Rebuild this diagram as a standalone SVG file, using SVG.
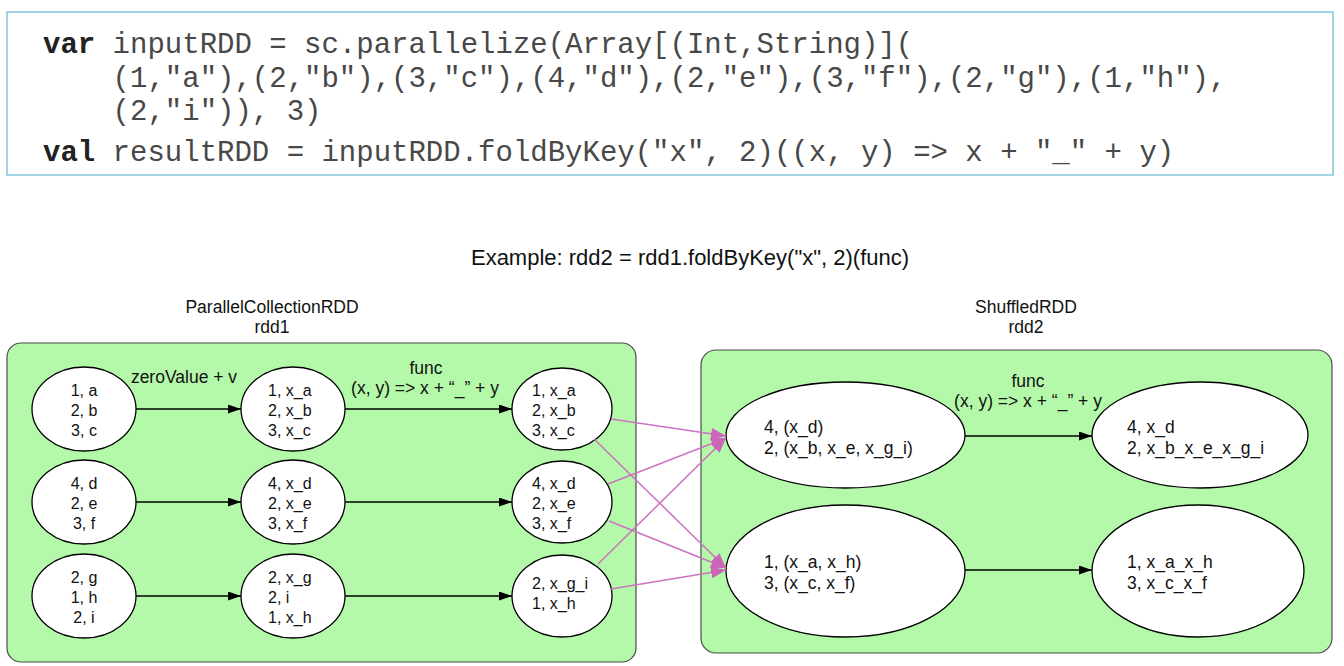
<svg xmlns="http://www.w3.org/2000/svg" width="1344" height="666" viewBox="0 0 1344 666">
<style>
.code{font-family:"Liberation Mono","Courier New",monospace;font-size:29px;fill:#484848;white-space:pre}
.kw{font-weight:bold;fill:#222}
.t{font-family:"Liberation Sans",Arial,sans-serif;fill:#111}
.ttl{font-size:17.5px;text-anchor:middle}
.lbl{font-size:17.5px;text-anchor:middle}
.n{font-size:16px}
.nc{text-anchor:middle}
.rn{font-size:17.5px}
.cl{fill:#b4f9aa;stroke:#4a4a4a;stroke-width:1.2}
.el{fill:#fff;stroke:#000;stroke-width:1.3}
.a{stroke:#000;stroke-width:1.5;fill:none;marker-end:url(#ah)}
.p{stroke:#cc72bf;stroke-width:1.5;fill:none;marker-end:url(#ph)}
</style>
<defs>
<marker id="ah" markerUnits="userSpaceOnUse" markerWidth="13" markerHeight="9" refX="13" refY="4.5" orient="auto"><path d="M0,0 L13,4.5 L0,9 z" fill="#000"/></marker>
<marker id="ph" markerUnits="userSpaceOnUse" markerWidth="15" markerHeight="12" refX="15" refY="6" orient="auto"><path d="M0,0 L15,6 L0,12 z" fill="#cc66bb"/></marker>
</defs>
<rect width="1344" height="666" fill="#fff"/>
<g id="code">
<rect x="7" y="12" width="1326" height="163" fill="#fff" stroke="#8acbe0" stroke-width="1.6"/>
<text class="code" x="43" y="53"><tspan class="kw">var</tspan> inputRDD = sc.parallelize(Array[(Int,String)](</text>
<text class="code" x="43" y="87">    (1,"a"),(2,"b"),(3,"c"),(4,"d"),(2,"e"),(3,"f"),(2,"g"),(1,"h"),</text>
<text class="code" x="43" y="120">    (2,"i")), 3)</text>
<text class="code" x="43" y="161"><tspan class="kw">val</tspan> resultRDD = inputRDD.foldByKey("x", 2)((x, y) =&gt; x + "_" + y)</text>
</g>
<g id="title"><text class="t" x="690" y="265" font-size="22" text-anchor="middle">Example: rdd2 = rdd1.foldByKey("x", 2)(func)</text></g>
<g id="rdd1">
<text class="t ttl" x="272" y="313">ParallelCollectionRDD</text>
<text class="t ttl" x="272" y="333">rdd1</text>
<rect class="cl" x="7" y="343" width="629" height="319" rx="14"/>
</g>
<g id="rdd2">
<text class="t ttl" x="1026" y="313">ShuffledRDD</text>
<text class="t ttl" x="1026" y="333">rdd2</text>
<rect class="cl" x="701" y="350" width="631" height="303" rx="15"/>
</g>
<g id="labels">
<text class="t lbl" x="184" y="383">zeroValue + v</text>
<text class="t lbl" x="426" y="374">func</text>
<text class="t lbl" x="425" y="394">(x, y) =&gt; x + “_” + y</text>
<text class="t lbl" x="1028" y="387">func</text>
<text class="t lbl" x="1028" y="407">(x, y) =&gt; x + “_” + y</text>
</g>
<g id="n11"><ellipse class="el" cx="84" cy="409" rx="52" ry="42"/><text class="t n nc" x="84"><tspan x="84" y="396">1, a</tspan><tspan x="84" y="416">2, b</tspan><tspan x="84" y="436">3, c</tspan></text></g>
<g id="n21"><ellipse class="el" cx="84" cy="502" rx="52" ry="42"/><text class="t n nc" x="84"><tspan x="84" y="489">4, d</tspan><tspan x="84" y="509">2, e</tspan><tspan x="84" y="529">3, f</tspan></text></g>
<g id="n31"><ellipse class="el" cx="84" cy="596" rx="52" ry="42"/><text class="t n nc" x="84"><tspan x="84" y="583">2, g</tspan><tspan x="84" y="603">1, h</tspan><tspan x="84" y="623">2, i</tspan></text></g>
<g id="n12"><ellipse class="el" cx="293" cy="409" rx="52" ry="42"/><text class="t n" x="268"><tspan x="268" y="396">1, x_a</tspan><tspan x="268" y="416">2, x_b</tspan><tspan x="268" y="436">3, x_c</tspan></text></g>
<g id="n22"><ellipse class="el" cx="293" cy="502" rx="52" ry="42"/><text class="t n" x="268"><tspan x="268" y="489">4, x_d</tspan><tspan x="268" y="509">2, x_e</tspan><tspan x="268" y="529">3, x_f</tspan></text></g>
<g id="n32"><ellipse class="el" cx="293" cy="596" rx="52" ry="42"/><text class="t n" x="268"><tspan x="268" y="583">2, x_g</tspan><tspan x="268" y="603">2, i</tspan><tspan x="268" y="623">1, x_h</tspan></text></g>
<g id="n13"><ellipse class="el" cx="562" cy="409" rx="50" ry="41"/><text class="t n" x="532"><tspan x="532" y="396">1, x_a</tspan><tspan x="532" y="416">2, x_b</tspan><tspan x="532" y="436">3, x_c</tspan></text></g>
<g id="n23"><ellipse class="el" cx="562" cy="502" rx="50" ry="41"/><text class="t n" x="532"><tspan x="532" y="489">4, x_d</tspan><tspan x="532" y="509">2, x_e</tspan><tspan x="532" y="529">3, x_f</tspan></text></g>
<g id="n33"><ellipse class="el" cx="562" cy="596" rx="50" ry="41"/><text class="t n" x="532"><tspan x="532" y="589">2, x_g_i</tspan><tspan x="532" y="609">1, x_h</tspan></text></g>
<g id="m1"><ellipse class="el" cx="845.5" cy="435" rx="119.5" ry="53"/><text class="t rn" x="764"><tspan x="764" y="433">4, (x_d)</tspan><tspan x="764" y="454">2, (x_b, x_e, x_g_i)</tspan></text></g>
<g id="m2"><ellipse class="el" cx="845.5" cy="571" rx="119.5" ry="66"/><text class="t rn" x="764"><tspan x="764" y="568">1, (x_a, x_h)</tspan><tspan x="764" y="589">3, (x_c, x_f)</tspan></text></g>
<g id="r1"><ellipse class="el" cx="1200" cy="435" rx="108" ry="53"/><text class="t rn" x="1127"><tspan x="1127" y="433">4, x_d</tspan><tspan x="1127" y="454">2, x_b_x_e_x_g_i</tspan></text></g>
<g id="r2"><ellipse class="el" cx="1198" cy="571" rx="106" ry="66"/><text class="t rn" x="1127"><tspan x="1127" y="568">1, x_a_x_h</tspan><tspan x="1127" y="589">3, x_c_x_f</tspan></text></g>
<g id="connectors">
<line class="a" x1="136" y1="409" x2="241" y2="409"/>
<line class="a" x1="345" y1="409" x2="512" y2="409"/>
<line class="a" x1="136" y1="502" x2="241" y2="502"/>
<line class="a" x1="345" y1="502" x2="512" y2="502"/>
<line class="a" x1="136" y1="596" x2="241" y2="596"/>
<line class="a" x1="345" y1="596" x2="512" y2="596"/>
<line class="a" x1="965" y1="436" x2="1092" y2="436"/>
<line class="a" x1="965" y1="570" x2="1092" y2="570"/>
<line class="p" x1="611" y1="419" x2="726" y2="436"/>
<line class="p" x1="594" y1="439" x2="726" y2="568"/>
<line class="p" x1="608" y1="484" x2="726" y2="438"/>
<line class="p" x1="609" y1="521" x2="726" y2="568"/>
<line class="p" x1="598" y1="564" x2="726" y2="438"/>
<line class="p" x1="611" y1="589" x2="726" y2="570"/>
</g>
</svg>
